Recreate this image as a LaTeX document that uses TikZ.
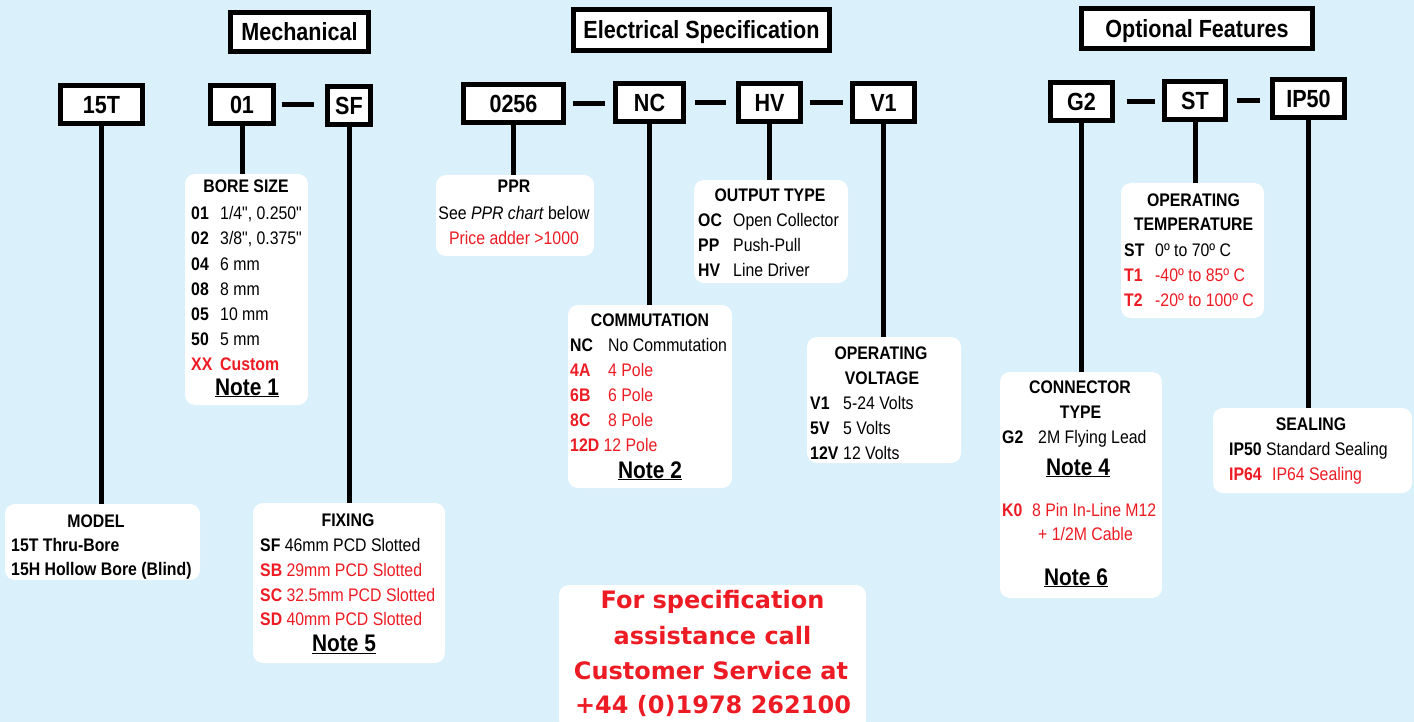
\documentclass[tikz,border=0pt]{standalone}
\usepackage{fontspec}
\setmainfont[FakeStretch=0.87, Ligatures=TeXOff]{Liberation Sans}
\newfontfamily\callfont{DejaVu Sans}
\usetikzlibrary{positioning}

\definecolor{skyback}{HTML}{DAF0FB}
\definecolor{specred}{HTML}{ED1C24}

\newcommand\codew[2]{\makebox[#1pt][l]{\bfseries #2}}

\tikzset{
  codebox/.style={draw=black, line width=5pt, fill=white, inner sep=0pt,
    font=\bfseries\fontsize{24.8}{28}\selectfont, text height=18pt, text depth=0pt},
  infobox/.style={fill=white, rounded corners=10pt, inner sep=0pt},
  link/.style={draw=black, line width=5pt},
  row/.style={anchor=base west, inner sep=0pt, font=\fontsize{18.2}{20}\selectfont},
  head/.style={anchor=base, inner sep=0pt, font=\bfseries\fontsize{18.2}{20}\selectfont},
  note/.style={anchor=base, inner sep=0pt, font=\bfseries\fontsize{24}{28}\selectfont},
  callline/.style={anchor=base, inner sep=0pt, text=specred,
    font=\callfont\bfseries\fontsize{24}{30}\selectfont},
  opt/.style={text=specred}
}

\begin{document}
\begin{tikzpicture}[x=1pt,y=-1pt]
\useasboundingbox (0,0) rectangle (1414,722);
\fill[skyback] (0,0) rectangle (1414,722);

% group headings
\begin{scope}[every node/.style={codebox}]
    \node[minimum width=138pt, minimum height=39pt] (mech) at (299.5,32) {Mechanical};
    \node[minimum width=256pt, minimum height=41pt] (elec) at (701.5,30) {Electrical Specification};
    \node[minimum width=231pt, minimum height=40pt] (optf) at (1197,28.5) {Optional Features};
\end{scope}

% part number fields
\begin{scope}[every node/.style={codebox, minimum height=38pt}]
    \node[minimum width=82pt]   (c15T)  at (101.5,104.5) {15T};
    \node[minimum width=63pt]   (c01)   at (242,104.5)   {01};
    \node[minimum width=43pt]   (cSF)   at (349,105.5)   {SF};
    \node[minimum width=100pt]  (c0256) at (513.5,104)   {0256};
    \node[minimum width=68pt]   (cNC)   at (649.5,102.5) {NC};
    \node[minimum width=62pt]   (cHV)   at (769.5,102.5) {HV};
    \node[minimum width=62pt]   (cV1)   at (883.5,102.5) {V1};
    \node[minimum width=62pt]   (cG2)   at (1081.5,101.5) {G2};
    \node[minimum width=61pt]   (cST)   at (1195,100.5)  {ST};
    \node[minimum width=72pt]   (cIP)   at (1308.5,99)   {IP50};
\end{scope}

% option panels
\begin{scope}[every node/.style={infobox}]
    \node[minimum width=123pt, minimum height=231pt] (bore)   at (246.5,289.5) {};
    \node[minimum width=158pt, minimum height=81pt]  (ppr)    at (515,215.5)   {};
    \node[minimum width=154pt, minimum height=103pt] (output) at (771,231.5)   {};
    \node[minimum width=164pt, minimum height=183pt] (commut) at (650,396.5)   {};
    \node[minimum width=154pt, minimum height=126pt] (volt)   at (884,400)     {};
    \node[minimum width=143pt, minimum height=135pt] (temp)   at (1192.5,250.5) {};
    \node[minimum width=162pt, minimum height=226pt] (conn)   at (1081,485)    {};
    \node[minimum width=199pt, minimum height=85pt]  (seal)   at (1312.5,450.5) {};
    \node[minimum width=195pt, minimum height=76pt]  (model)  at (102.5,542)   {};
    \node[minimum width=192pt, minimum height=160pt] (fixing) at (349,583)     {};
    \node[minimum width=307pt, minimum height=145pt] (call)   at (712.5,657.5) {};
\end{scope}

% connectors
\begin{scope}[every path/.style={link}]
    \draw (c15T.south)  -- (c15T.south |- model.north);
    \draw (c01.south)   -- (c01.south |- bore.north);
    \draw (cSF.south)   -- (cSF.south |- fixing.north);
    \draw (c0256.south) -- (c0256.south |- ppr.north);
    \draw (cNC.south)   -- (cNC.south |- commut.north);
    \draw (cHV.south)   -- (cHV.south |- output.north);
    \draw (cV1.south)   -- (cV1.south |- volt.north);
    \draw (cG2.south)   -- (cG2.south |- conn.north);
    \draw (cST.south)   -- (cST.south |- temp.north);
    \draw (cIP.south)   -- (cIP.south |- seal.north);
    \draw[shorten <=5.5pt, shorten >=11.5pt] (c01.east)   -- (c01.east -| cSF.west);
    \draw[shorten <=6.5pt, shorten >=8.5pt]  (c0256.east) -- (c0256.east -| cNC.west);
    \draw[shorten <=8.5pt, shorten >=10.5pt] (cNC.east)   -- (cNC.east -| cHV.west);
    \draw[shorten <=6.5pt, shorten >=7.5pt]  (cHV.east)   -- (cHV.east -| cV1.west);
    \draw[shorten <=11.5pt, shorten >=7.5pt] (cG2.east)   -- (cG2.east -| cST.west);
    \draw[shorten <=8.5pt, shorten >=10.5pt] (cST.east)   -- (cST.east -| cIP.west);
\end{scope}

% bore size
\node[head] (boreT) at (246,193) {BORE SIZE};
\node[row] (bore01) at (191,220) {\codew{29}{01}1/4", 0.250"};
\node[row] (bore02) at (191,245) {\codew{29}{02}3/8", 0.375"};
\node[row] (bore04) at (191,270) {\codew{29}{04}6 mm};
\node[row] (bore08) at (191,295) {\codew{29}{08}8 mm};
\node[row] (bore05) at (191,320) {\codew{29}{05}10 mm};
\node[row] (bore50) at (191,345) {\codew{29}{50}5 mm};
\node[row, opt, font=\bfseries\fontsize{18.2}{20}\selectfont] (boreXX) at (191,370) {\codew{29}{XX}Custom};
\node[note] (note1) at (247,395) {\underline{Note 1}};

% ppr
\node[head] (pprT) at (514,193) {PPR};
\node[head, font=\fontsize{18.2}{20}\selectfont] (pprA) at (514,220) {See \textit{PPR chart} below};
\node[head, opt, font=\fontsize{18.2}{20}\selectfont] (pprB) at (514,245) {Price adder >1000};

% output type
\node[head] (outT) at (770,201.5) {OUTPUT TYPE};
\node[row] (outOC) at (698,226.5) {\codew{35}{OC}Open Collector};
\node[row] (outPP) at (698,251.5) {\codew{35}{PP}Push-Pull};
\node[row] (outHV) at (698,276.5) {\codew{35}{HV}Line Driver};

% commutation
\node[head] (comT) at (650,326) {COMMUTATION};
\node[row] (comNC) at (570,351.5) {\codew{38}{NC}No Commutation};
\node[row, opt] (com4A) at (570,376.5) {\codew{38}{4A}4 Pole};
\node[row, opt] (com6B) at (570,401.5) {\codew{38}{6B}6 Pole};
\node[row, opt] (com8C) at (570,426.5) {\codew{38}{8C}8 Pole};
\node[row, opt] (com12D) at (570,451.5) {\textbf{12D} 12 Pole};
\node[note] (note2) at (650,478) {\underline{Note 2}};

% operating voltage
\node[head] (voltT) at (881,359.5) {OPERATING};
\node[head] (voltU) at (882,384.5) {VOLTAGE};
\node[row] (voltV1)  at (810,409.5) {\codew{33}{V1}5-24 Volts};
\node[row] (volt5V)  at (810,434.5) {\codew{33}{5V}5 Volts};
\node[row] (volt12V) at (810,459.5) {\codew{33}{12V}12 Volts};

% operating temperature
\node[head] (tempT) at (1193.5,206.5) {OPERATING};
\node[head] (tempU) at (1193.5,231) {TEMPERATURE};
\node[row] (tempST) at (1124,256.5) {\codew{31}{ST}0º to 70º C};
\node[row, opt] (tempT1) at (1124,281.5) {\codew{31}{T1}-40º to 85º C};
\node[row, opt] (tempT2) at (1124,306.5) {\codew{31}{T2}-20º to 100º C};

% connector type
\node[head] (connT) at (1080,393.5) {CONNECTOR};
\node[head] (connU) at (1080.5,418.5) {TYPE};
\node[row] (connG2) at (1002,443.5) {\codew{36}{G2}2M Flying Lead};
\node[note] (note4) at (1078,475) {\underline{Note 4}};
\node[row, opt] (connK0) at (1002,516.5) {\codew{30}{K0}8 Pin In-Line M12};
\node[row, opt] (connK0b) at (1038,540) {+ 1/2M Cable};
\node[note] (note6) at (1076,585) {\underline{Note 6}};

% sealing
\node[head] (sealT) at (1311,430) {SEALING};
\node[row] (seal50) at (1229,455) {\textbf{IP50} Standard Sealing};
\node[row, opt] (seal64) at (1229,480) {\codew{43}{IP64}IP64 Sealing};

% model
\node[head] (modelT) at (96,527) {MODEL};
\node[row, font=\bfseries\fontsize{18.2}{20}\selectfont] (model15T) at (11,551) {15T Thru-Bore};
\node[row, font=\bfseries\fontsize{18.2}{20}\selectfont] (model15H) at (11,575) {15H Hollow Bore (Blind)};

% fixing
\node[head] (fixT) at (348,526) {FIXING};
\node[row] (fixSF) at (260,551) {\textbf{SF} 46mm PCD Slotted};
\node[row, opt] (fixSB) at (260,576) {\textbf{SB} 29mm PCD Slotted};
\node[row, opt] (fixSC) at (260,601) {\textbf{SC} 32.5mm PCD Slotted};
\node[row, opt] (fixSD) at (260,625.5) {\textbf{SD} 40mm PCD Slotted};
\node[note] (note5) at (344,651.5) {\underline{Note 5}};

% customer service
\node[callline] (call1) at (712.5,608.5) {For specification};
\node[callline] (call2) at (712.5,644)   {assistance call};
\node[callline] (call3) at (711,679)     {Customer Service at};
\node[callline] (call4) at (713,713.5)   {+44 (0)1978 262100};
\end{tikzpicture}
\end{document}
